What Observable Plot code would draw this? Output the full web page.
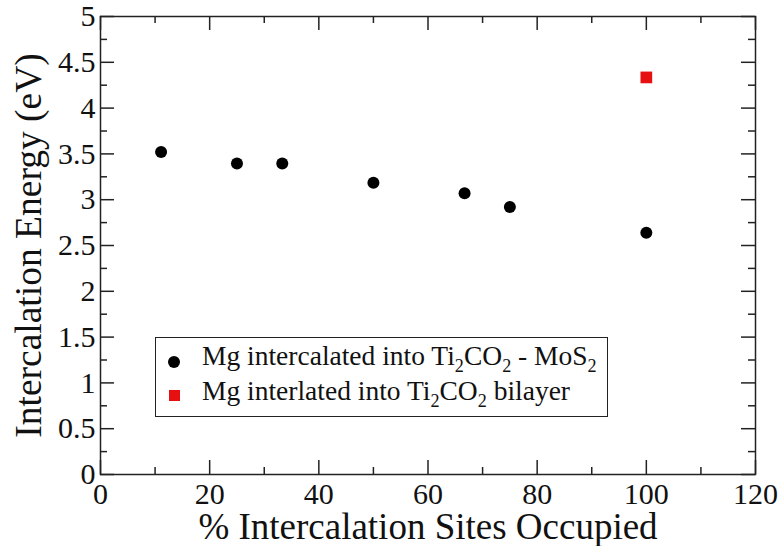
<!DOCTYPE html>
<html><head><meta charset="utf-8">
<script src="https://cdn.jsdelivr.net/npm/d3@7"></script>
<script src="https://cdn.jsdelivr.net/npm/@observablehq/plot@0.6"></script>
<style>
body{margin:0;background:#fff;}
#wrap{position:relative;width:782px;height:546px;font-family:"Liberation Serif","Times New Roman",serif;color:#111;}
#wrap svg text{font-family:"Liberation Serif","Times New Roman",serif;}
#legend{position:absolute;left:155px;top:337px;width:451px;height:78px;border:1.5px solid #222;background:#fff;}
.lt{position:absolute;left:202px;font-size:27.5px;line-height:1;white-space:nowrap;}
.lt sub{font-size:0.66em;vertical-align:-0.38em;line-height:0;}
.mk{position:absolute;}
</style></head>
<body>
<div id="wrap"></div>
<script>
// Data
const xMg = [11.1, 25, 33.3, 50, 66.7, 75, 100];
const yMg = [3.52, 3.395, 3.395, 3.185, 3.07, 2.92, 2.64];
const xBilayer = [100];
const yBilayer = [4.335];
const xTicks = [0, 20, 40, 60, 80, 100, 120];
const xMinor = [10, 30, 50, 70, 90, 110];
const yTicks = [0, 0.5, 1, 1.5, 2, 2.5, 3, 3.5, 4, 4.5, 5];
const yMinor = [0.25, 0.75, 1.25, 1.75, 2.25, 2.75, 3.25, 3.75, 4.25, 4.75];
const xLabel = "% Intercalation Sites Occupied";
const yLabel = "Intercalation Energy (eV)";

const mg = xMg.map((x, i) => ({x, y: yMg[i]}));
const bi = xBilayer.map((x, i) => ({x, y: yBilayer[i]}));

const W = 782, H = 546, mL = 100, mR = 27, mT = 16, mB = 72;
const pw = W - mL - mR, ph = H - mT - mB;
const font = "Liberation Serif";
const tc = "#222";

const chart = Plot.plot({
  width: W, height: H,
  marginLeft: mL, marginRight: mR, marginTop: mT, marginBottom: mB,
  x: {domain: [0, 120]},
  y: {domain: [0, 5]},
  style: {fontFamily: font, background: "#fff", color: "#111"},
  marks: [
    // inward ticks, all four sides
    Plot.tickX(xTicks, {x: d => d, insetTop: ph - 14, stroke: tc, strokeWidth: 1.5}),
    Plot.tickX(xTicks, {x: d => d, insetBottom: ph - 14, stroke: tc, strokeWidth: 1.5}),
    Plot.tickX(xMinor, {x: d => d, insetTop: ph - 7, stroke: tc, strokeWidth: 1.5}),
    Plot.tickX(xMinor, {x: d => d, insetBottom: ph - 7, stroke: tc, strokeWidth: 1.5}),
    Plot.tickY(yTicks, {y: d => d, insetRight: pw - 14, stroke: tc, strokeWidth: 1.5}),
    Plot.tickY(yTicks, {y: d => d, insetLeft: pw - 14, stroke: tc, strokeWidth: 1.5}),
    Plot.tickY(yMinor, {y: d => d, insetRight: pw - 7, stroke: tc, strokeWidth: 1.5}),
    Plot.tickY(yMinor, {y: d => d, insetLeft: pw - 7, stroke: tc, strokeWidth: 1.5}),
    Plot.axisX(xTicks, {tickSize: 0, tickPadding: 8, fontSize: 30, fontFamily: font, label: null, fill: "#111"}),
    Plot.axisY(yTicks, {tickSize: 0, tickPadding: 5, fontSize: 30, fontFamily: font, label: null, fill: "#111", tickFormat: d => String(d)}),
    Plot.frame({stroke: tc, strokeWidth: 1.5}),
    Plot.text([xLabel], {text: d => d, frameAnchor: "bottom", dy: 64, lineAnchor: "bottom", fontSize: 37, fontFamily: font, fill: "#111"}),
    Plot.text([yLabel], {text: d => d, frameAnchor: "left", dx: -60, dy: 0, rotate: -90, lineAnchor: "bottom", textAnchor: "middle", fontSize: 37.5, fontFamily: font, fill: "#111"}),
    Plot.dot(mg, {x: "x", y: "y", r: 6, fill: "#000", stroke: null}),
    Plot.dot(bi, {x: "x", y: "y", symbol: "square", r: 6.6, fill: "#e61010", stroke: null})
  ]
});
const wrap = document.getElementById("wrap");
wrap.appendChild(chart);

// Legend
const leg = document.createElement("div"); leg.id = "legend"; wrap.appendChild(leg);
function addEl(html, cls, style) { const d = document.createElement("div"); d.className = cls; d.innerHTML = html; Object.assign(d.style, style); wrap.appendChild(d); }
addEl("", "mk", {left: "168px", top: "355.5px", width: "12px", height: "12px", borderRadius: "50%", background: "#000"});
addEl("", "mk", {left: "168.5px", top: "389.5px", width: "11px", height: "11px", background: "#e61010"});
addEl("Mg intercalated into Ti<sub>2</sub>CO<sub>2</sub> - MoS<sub>2</sub>", "lt", {top: "342px"});
addEl("Mg interlated into Ti<sub>2</sub>CO<sub>2</sub> bilayer", "lt", {top: "377px"});
</script>
</body></html>
